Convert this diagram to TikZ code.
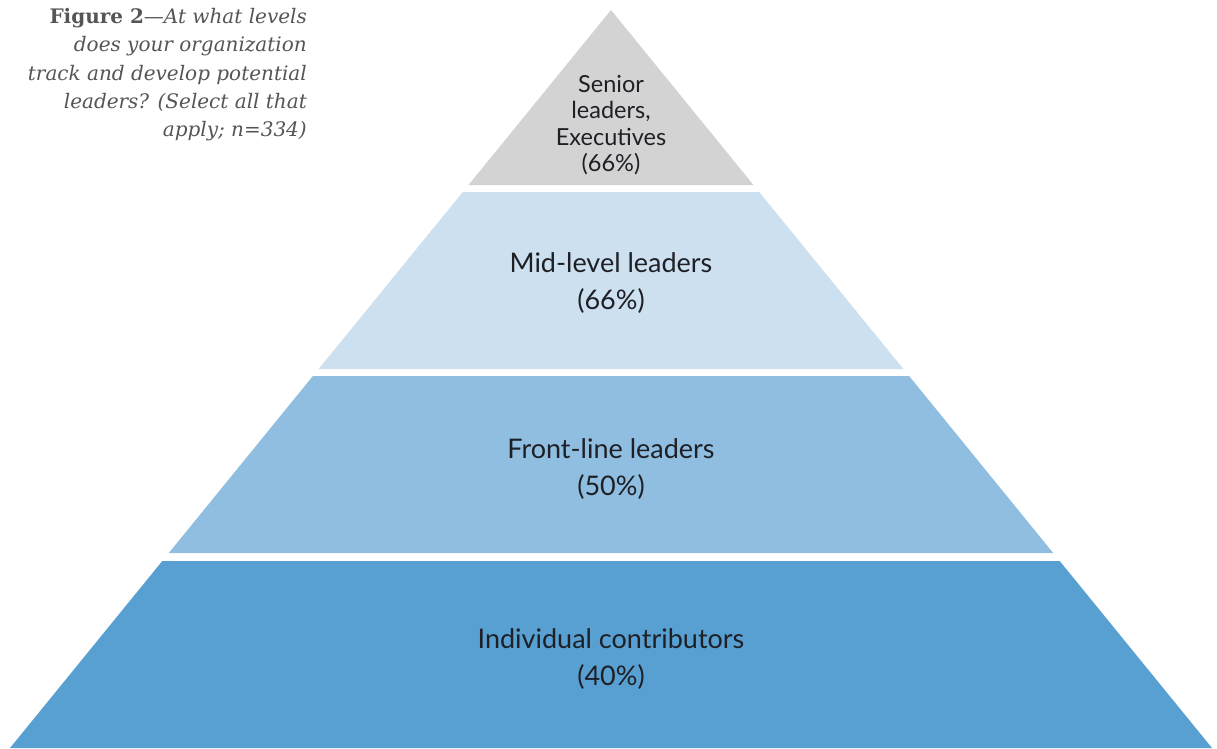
\documentclass[tikz,border=0pt]{standalone}
\usepackage{fontspec}
\setmainfont{Lato}
\newfontfamily\capfont{DejaVu Serif}
\definecolor{tiergrey}{RGB}{211,211,211}
\definecolor{tierpale}{RGB}{205,224,240}
\definecolor{tiermid}{RGB}{143,190,224}
\definecolor{tierdeep}{RGB}{88,160,210}
\definecolor{labtext}{RGB}{30,32,38}
\definecolor{captext}{RGB}{85,85,85}
\tikzset{
  tierlabel/.style={align=center, text=labtext, font=\fontsize{27}{36.5}\selectfont, inner sep=0pt},
  toplabel/.style={align=center, text=labtext, font=\fontsize{23.5}{26.3}\selectfont, inner sep=0pt},
}
\begin{document}
\begin{tikzpicture}[x=1pt,y=-1pt]
\useasboundingbox (0,0) rectangle (1217,748);
% tiers
\fill[tiergrey] (611,10) -- (753.5,185) -- (468.5,185) -- cycle;
\fill[tierpale] (462.8,192) -- (759.2,192) -- (903.4,369) -- (318.6,369) -- cycle;
\fill[tiermid] (312.9,376) -- (909.1,376) -- (1053.2,553) -- (168.8,553) -- cycle;
\fill[tierdeep] (162.3,561) -- (1059.7,561) -- (1212,748) -- (10,748) -- cycle;
% labels
\node[toplabel] (senior) at (611,125) {Senior\\leaders,\\Executives\\(66\%)};
\node[tierlabel] (mid) at (611,283) {Mid-level leaders\\(66\%)};
\node[tierlabel] (front) at (611,469) {Front-line leaders\\(50\%)};
\node[tierlabel] (indiv) at (611,659) {Individual contributors\\(40\%)};
% caption
\node[anchor=north east, align=right, inner sep=0pt, text=captext,
  font=\capfont\fontsize{20}{28.3}\selectfont] (caption) at (307,8)
  {\textbf{Figure 2}—\itshape At what levels\\\itshape does your organization\\\itshape track and develop potential\\\itshape leaders? (Select all that\\\itshape apply; n=334)};
\end{tikzpicture}
\end{document}
